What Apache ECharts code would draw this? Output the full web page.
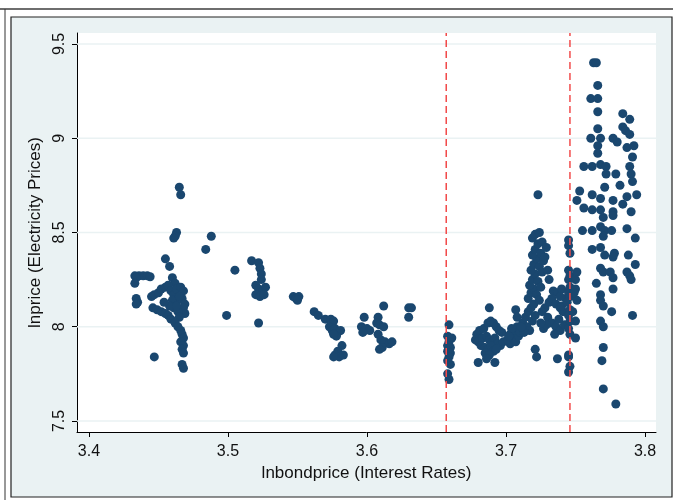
<!DOCTYPE html>
<html>
<head>
<meta charset="utf-8">
<script src="https://cdn.jsdelivr.net/npm/echarts@6/dist/echarts.min.js"></script>
<style>
html,body{margin:0;padding:0;background:#fff;}
#chart{width:673px;height:500px;}
</style>
</head>
<body>
<div id="chart"></div>
<script>
// Tick labels
var xTicks = [3.4, 3.5, 3.6, 3.7, 3.8];
var yTicks = [7.5, 8, 8.5, 9, 9.5];
// Axis ranges
var xRange = [3.3914, 3.8079];
var yRange = [7.4416, 9.558];
// Break lines (red dashed)
var breakLines = [3.657, 3.746];

// Data: [lnbondprice, lnprice]
var leftCluster = [
  [3.433,8.27],[3.436,8.27],[3.439,8.27],[3.442,8.27],[3.444,8.265],[3.434,8.26],[3.433,8.23],
  [3.434,8.15],[3.435,8.13],[3.434,8.12],[3.447,7.84],
  [3.465,8.74],[3.466,8.70],[3.463,8.50],[3.462,8.48],[3.461,8.47],
  [3.455,8.36],[3.458,8.32],[3.460,8.26],[3.462,8.23],
  [3.445,8.16],[3.447,8.17],[3.450,8.18],[3.452,8.20],[3.455,8.21],[3.457,8.22],[3.459,8.19],
  [3.461,8.17],[3.463,8.20],[3.466,8.21],[3.468,8.19],[3.467,8.15],[3.469,8.12],[3.468,8.10],
  [3.469,8.07],[3.446,8.10],[3.449,8.09],[3.452,8.08],[3.455,8.07],[3.457,8.06],[3.459,8.04],
  [3.461,8.10],[3.463,8.13],[3.464,8.08],[3.465,8.05],[3.462,8.02],[3.464,8.00],[3.466,7.98],
  [3.467,7.96],[3.468,7.94],[3.466,7.92],[3.468,7.90],[3.467,7.88],[3.468,7.86],[3.460,8.14],
  [3.458,8.11],[3.454,8.13],[3.465,8.16],[3.463,8.11],[3.467,7.80],[3.468,7.78]
];
var middleCluster = [
  [3.488,8.48],[3.484,8.41],[3.505,8.30],[3.499,8.06],
  [3.517,8.35],[3.522,8.34],[3.523,8.31],[3.524,8.28],[3.524,8.25],[3.520,8.22],[3.522,8.20],
  [3.525,8.19],[3.527,8.21],[3.520,8.17],[3.523,8.16],[3.526,8.17],[3.522,8.02],
  [3.547,8.16],[3.549,8.15],[3.551,8.16],[3.550,8.14],
  [3.562,8.08],[3.565,8.06],[3.570,8.04],[3.574,8.04],[3.576,8.03],
  [3.573,8.00],[3.575,7.98],[3.577,7.99],[3.579,7.97],[3.581,7.98],[3.578,7.95],[3.576,7.96],
  [3.582,7.90],[3.579,7.87],[3.577,7.85],[3.580,7.84],[3.583,7.85],[3.576,7.84],
  [3.598,8.05],[3.596,8.00],[3.598,7.98],[3.600,7.99],[3.602,7.98],[3.597,7.97],
  [3.612,8.11],[3.608,8.05],[3.607,8.02],[3.609,8.01],[3.612,8.00],[3.608,7.96],[3.610,7.93],
  [3.613,7.92],[3.616,7.91],[3.618,7.92],[3.611,7.89],[3.609,7.88],
  [3.630,8.10],[3.632,8.10],[3.630,8.05]
];
var lowCluster = [
  [3.659,8.01],[3.658,7.95],[3.661,7.94],[3.659,7.92],[3.658,7.90],[3.660,7.89],[3.658,7.87],
  [3.660,7.86],[3.659,7.84],[3.658,7.82],[3.660,7.80],[3.658,7.75],[3.659,7.72],
  [3.688,8.10],[3.679,7.96],[3.681,7.98],[3.684,7.99],[3.687,8.02],[3.689,8.03],[3.691,8.02],
  [3.693,8.00],[3.695,7.98],[3.697,7.97],[3.678,7.93],[3.680,7.92],[3.683,7.94],[3.686,7.95],
  [3.688,7.93],[3.690,7.92],[3.692,7.94],[3.694,7.91],[3.696,7.90],[3.698,7.92],[3.682,7.90],
  [3.685,7.89],[3.687,7.88],[3.689,7.90],[3.691,7.87],[3.693,7.88],[3.685,7.86],[3.688,7.85],
  [3.680,7.81],[3.692,7.81],[3.686,7.83]
];
var riseCluster = [
  [3.703,7.91],[3.701,7.93],[3.705,7.94],[3.707,7.92],[3.709,7.95],[3.703,7.96],[3.706,7.98],
  [3.708,8.00],[3.710,7.97],[3.712,8.02],[3.704,7.99],[3.702,7.95],[3.707,8.09],[3.708,8.05],
  [3.714,8.05],[3.716,8.08],[3.718,8.10],[3.720,8.12],[3.715,8.00],[3.717,7.98],[3.719,8.03],
  [3.721,8.06],[3.713,7.97],[3.711,8.00],
  [3.716,8.15],[3.718,8.18],[3.720,8.20],[3.722,8.17],[3.724,8.14],[3.717,8.22],[3.719,8.25],
  [3.721,8.28],[3.723,8.24],[3.725,8.21],
  [3.718,8.30],[3.720,8.33],[3.722,8.36],[3.724,8.32],[3.726,8.29],[3.719,8.38],[3.721,8.41],
  [3.723,8.44],[3.725,8.39],[3.727,8.35],
  [3.719,8.47],[3.721,8.49],[3.724,8.50],[3.726,8.45],[3.729,8.42],[3.728,8.37],[3.730,8.30],
  [3.731,8.25],[3.723,8.70],[3.721,7.88],[3.722,7.84],
  [3.728,8.10],[3.731,8.13],[3.734,8.19],[3.737,8.18],[3.733,8.15],[3.736,8.12],[3.739,8.10],
  [3.741,8.08],[3.730,8.05],[3.733,8.02],[3.736,8.00],[3.739,7.98],[3.742,8.01],[3.727,7.99],
  [3.729,8.01],[3.735,7.96],[3.738,8.04],[3.725,8.02],[3.726,8.08],
  [3.737,7.83],[3.740,8.20],[3.743,8.15],[3.739,8.16],[3.740,8.11],
  [3.745,8.46],[3.745,8.43],[3.746,8.39],[3.745,8.30],[3.746,8.27],[3.745,8.25],[3.746,8.21],
  [3.745,8.18],[3.746,8.16],[3.744,8.13],[3.746,8.09],[3.745,8.06],[3.746,8.03],[3.745,7.99],
  [3.746,7.96],[3.745,7.85],[3.746,7.79],[3.745,7.76],[3.745,7.84],
  [3.751,8.29],[3.750,8.25],[3.750,8.20],[3.751,8.14],[3.750,8.03],[3.750,7.94],[3.749,8.18],[3.748,8.08]
];
var highCluster = [
  [3.763,9.40],[3.765,9.40],[3.766,9.28],[3.761,9.21],[3.766,9.21],[3.766,9.14],[3.766,9.05],
  [3.761,9.00],[3.768,9.00],[3.766,8.96],[3.766,8.92],
  [3.784,9.13],[3.789,9.10],[3.784,9.06],[3.786,9.04],[3.789,9.02],[3.777,9.00],[3.780,8.98],
  [3.787,8.95],[3.792,8.96],[3.791,8.90],
  [3.756,8.85],[3.762,8.85],[3.768,8.86],[3.772,8.85],[3.789,8.85],[3.790,8.81],[3.772,8.81],
  [3.779,8.81],[3.791,8.77],[3.771,8.74],[3.782,8.75],
  [3.753,8.72],[3.762,8.70],[3.751,8.67],[3.768,8.68],[3.777,8.67],[3.787,8.69],[3.794,8.70],
  [3.784,8.65],[3.756,8.63],[3.762,8.62],[3.768,8.62],[3.777,8.61],[3.790,8.61],
  [3.770,8.58],[3.777,8.59],
  [3.755,8.51],[3.762,8.51],[3.768,8.53],[3.771,8.51],[3.776,8.51],[3.787,8.52],
  [3.770,8.48],[3.793,8.47],
  [3.762,8.41],[3.768,8.42],[3.771,8.38],[3.778,8.39],[3.777,8.37],[3.788,8.38],[3.793,8.33],
  [3.768,8.31],[3.770,8.29],[3.775,8.29],[3.777,8.26],[3.787,8.29],[3.789,8.27],[3.790,8.25],
  [3.765,8.23],[3.777,8.20],[3.768,8.17],[3.768,8.14],[3.770,8.11],[3.776,8.08],[3.791,8.06],
  [3.768,8.03],[3.770,8.00],[3.770,7.89],[3.769,7.82],[3.770,7.67],[3.779,7.59]
];

var points = [].concat(leftCluster, middleCluster, lowCluster, riseCluster, highCluster);

var FONT = "'Liberation Sans', Arial, sans-serif";
var chart = echarts.init(document.getElementById('chart'), null, {renderer: 'canvas'});

var series = [];
yTicks.forEach(function (v) {
  series.push({
    type: 'line', silent: true, z: 1, symbol: 'none',
    data: [[xRange[0], v], [xRange[1], v]],
    lineStyle: {color: '#eaf2f3', width: 1.5}
  });
});
series.push({
  type: 'scatter', data: points, z: 3, symbol: 'circle', symbolSize: 9,
  itemStyle: {color: '#1a476f', opacity: 1}
});
breakLines.forEach(function (b) {
  series.push({
    type: 'line', silent: true, z: 5, symbol: 'none',
    data: [[b, yRange[0]], [b, yRange[1]]],
    lineStyle: {color: '#f24b4b', width: 1.5, type: [7, 4]}
  });
});

chart.setOption({
  backgroundColor: '#ffffff',
  animation: false,
  graphic: [
    {type: 'line', z: -20, shape: {x1: 0, y1: 9, x2: 673, y2: 9}, style: {stroke: '#6e6e6e', lineWidth: 2}},
    {type: 'line', z: -20, shape: {x1: 5, y1: 9, x2: 5, y2: 500}, style: {stroke: '#333', lineWidth: 1}},
    {type: 'rect', z: -20, shape: {x: 11, y: 17, width: 661, height: 480}, style: {fill: '#eaf2f3', stroke: '#222', lineWidth: 1.2}}
  ],
  grid: {left: 77, right: 17, top: 33, bottom: 68, show: true, backgroundColor: '#ffffff', borderWidth: 0},
  xAxis: {
    type: 'value', min: xRange[0], max: xRange[1],
    name: 'lnbondprice (Interest Rates)', nameLocation: 'middle', nameGap: 25,
    nameTextStyle: {fontFamily: FONT, fontSize: 17, color: '#111'},
    axisLine: {show: true, onZero: false, lineStyle: {color: '#000', width: 1}},
    axisTick: {show: true, length: 5, lineStyle: {color: '#000'}, customValues: xTicks},
    axisLabel: {fontFamily: FONT, fontSize: 16, color: '#111', margin: 12, customValues: xTicks},
    splitLine: {show: false}
  },
  yAxis: {
    type: 'value', min: yRange[0], max: yRange[1],
    name: 'lnprice (Electricity Prices)', nameLocation: 'middle', nameGap: 16,
    nameTextStyle: {fontFamily: FONT, fontSize: 17, color: '#111'},
    axisLine: {show: true, onZero: false, lineStyle: {color: '#000', width: 1}},
    axisTick: {show: true, length: 5, lineStyle: {color: '#000'}, customValues: yTicks},
    axisLabel: {fontFamily: FONT, fontSize: 16, color: '#111', margin: 9, rotate: 90, customValues: yTicks},
    splitLine: {show: false}
  },
  series: series
});
</script>
</body>
</html>
